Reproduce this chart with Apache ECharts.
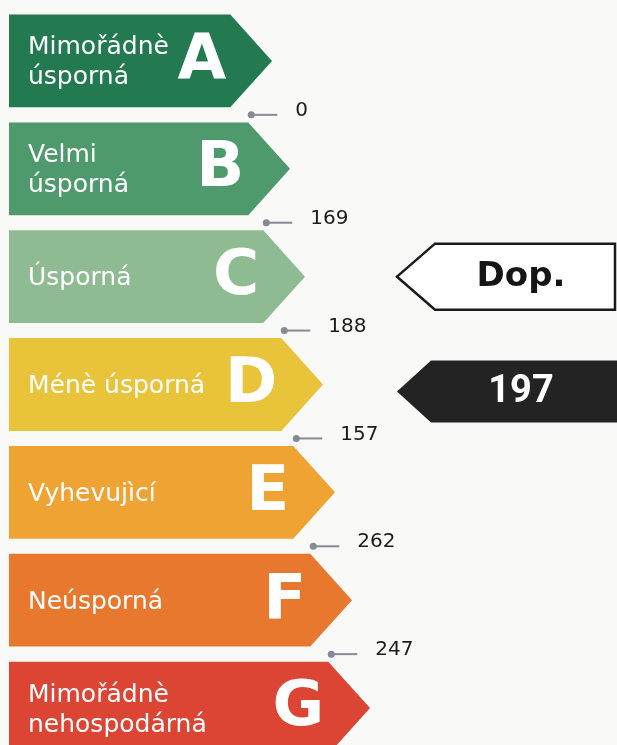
<!DOCTYPE html>
<html>
<head>
<meta charset="utf-8">
<script src="https://cdn.jsdelivr.net/npm/echarts@6/dist/echarts.min.js"></script>
<style>
  html, body { margin: 0; padding: 0; background: #f9f9f8; }
  #chart { width: 617px; height: 745px; }
</style>
</head>
<body>
<div id="chart"></div>
<script>
// energy classes, top to bottom
var grades = ["A", "B", "C", "D", "E", "F", "G"];
var gradeNames = [
  "Mimořádnè\núsporná",
  "Velmi\núsporná",
  "Úsporná",
  "Ménè úsporná",
  "Vyhevujìcí",
  "Neúsporná",
  "Mimořádnè\nnehospodárná"
];
// arrow length of each class (tip position on the x scale)
var barLength = [263, 281, 296, 314, 326, 343, 361];
// boundary values between neighbouring classes
var thresholds = ["0", "169", "188", "157", "262", "247"];
// markers on the right
var markerGrades = ["C", "D"];
var markerTexts = ["Dop.", "197"];

var colors = ["#237a50", "#4f9a6c", "#8fbb93", "#e9c43b", "#eea332", "#e9782f", "#dc4434"];

var myChart = echarts.init(document.getElementById("chart"));

function renderBar(params, api) {
  var i = params.dataIndex;
  var tip = api.coord([api.value(1), api.value(0)]);
  var left = api.coord([0, api.value(0)]);
  var band = api.size([0, 1])[1];
  var h = band * 0.86;
  var depth = h * 0.45;
  var cy = tip[1];
  var bodyEnd = tip[0] - depth;
  return {
    type: "group",
    children: [
      {
        type: "polygon",
        shape: {
          points: [
            [left[0], cy - h / 2],
            [bodyEnd, cy - h / 2],
            [tip[0], cy],
            [bodyEnd, cy + h / 2],
            [left[0], cy + h / 2]
          ]
        },
        style: { fill: colors[i] }
      },
      {
        type: "text",
        x: left[0] + 19,
        y: cy + 2,
        style: {
          text: gradeNames[i],
          fill: "#fff",
          font: "25px 'DejaVu Sans'",
          lineHeight: 30,
          align: "left",
          verticalAlign: "middle"
        }
      },
      {
        type: "text",
        x: bodyEnd - 4,
        y: cy + 1,
        style: {
          text: grades[i],
          fill: "#fff",
          font: "bold 63px 'DejaVu Sans'",
          align: "right",
          verticalAlign: "middle"
        }
      }
    ]
  };
}

function renderThreshold(params, api) {
  var i = params.dataIndex;
  var upper = api.coord([0, i]);
  var lower = api.coord([barLength[i + 1], i + 1]);
  var band = api.size([0, 1])[1];
  var depth = band * 0.86 * 0.45;
  var y = (upper[1] + lower[1]) / 2;
  var x = lower[0] - depth + 3;
  return {
    type: "group",
    children: [
      {
        type: "line",
        shape: { x1: x, y1: y, x2: x + 26, y2: y },
        style: { stroke: "#858b93", lineWidth: 2 }
      },
      {
        type: "circle",
        shape: { cx: x, cy: y, r: 3.5 },
        style: { fill: "#858b93" }
      },
      {
        type: "text",
        x: x + 44,
        y: y - 4,
        style: {
          text: thresholds[i],
          fill: "#1c1c1c",
          font: "20px 'DejaVu Sans'",
          align: "left",
          verticalAlign: "middle"
        }
      }
    ]
  };
}

function renderMarker(params, api) {
  var i = params.dataIndex;
  var c = api.coord([388, api.value(0)]);
  var dark = i === 1;
  var h = dark ? 62 : 66;
  var cy = c[1] + (dark ? 7 : 0);
  var tipX = c[0];
  var neck = tipX + (dark ? 34 : 38);
  var right = dark ? 620 : 615;
  return {
    type: "group",
    children: [
      {
        type: "polygon",
        shape: {
          points: [
            [tipX, cy],
            [neck, cy - h / 2],
            [right, cy - h / 2],
            [right, cy + h / 2],
            [neck, cy + h / 2]
          ]
        },
        style: {
          fill: dark ? "#232323" : "#ffffff",
          stroke: "#1a1a1a",
          lineWidth: dark ? 0 : 2.5
        }
      },
      {
        type: "text",
        x: 521,
        y: cy + 1,
        style: {
          text: markerTexts[i],
          fill: dark ? "#ffffff" : "#151515",
          font: dark ? "bold 38px Roboto" : "bold 34px 'DejaVu Sans'",
          align: "center",
          verticalAlign: "middle"
        }
      }
    ]
  };
}

var option = {
  backgroundColor: "#f9f9f8",
  animation: false,
  grid: { left: 9, top: 7, right: 0, bottom: -17, outerBoundsMode: "none" },
  xAxis: { type: "value", min: 0, max: 608, show: false },
  yAxis: { type: "category", data: grades, inverse: true, show: false },
  series: [
    {
      type: "custom",
      renderItem: renderBar,
      data: grades.map(function (g, i) { return [i, barLength[i]]; }),
      encode: { x: 1, y: 0 },
      clip: false
    },
    {
      type: "custom",
      renderItem: renderThreshold,
      data: thresholds.map(function (t, i) { return [i]; }),
      encode: { y: 0 },
      clip: false
    },
    {
      type: "custom",
      renderItem: renderMarker,
      data: markerGrades.map(function (g) { return [grades.indexOf(g)]; }),
      encode: { y: 0 },
      clip: false
    }
  ]
};

myChart.setOption(option);
</script>
</body>
</html>
